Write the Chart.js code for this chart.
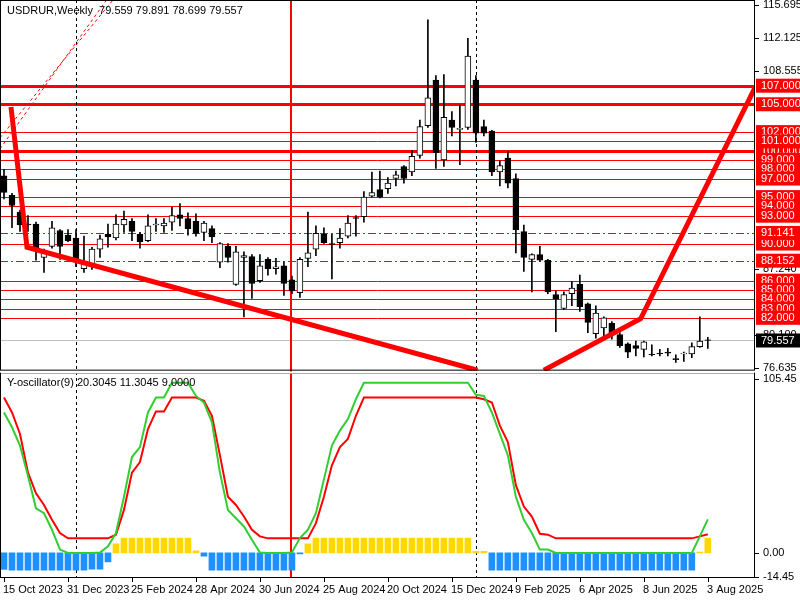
<!DOCTYPE html>
<html><head><meta charset="utf-8">
<script src="https://cdn.jsdelivr.net/npm/chart.js@4.4.1/dist/chart.umd.min.js"></script>
<style>html,body{margin:0;padding:0;background:#fff}#wrap{width:800px;height:600px}</style>
</head><body><div id="wrap"><canvas id="c"></canvas></div>
<script>
const opens =[97.3,95.2,93.4,92.1,92.1,88.5,89.7,91.4,90.9,90.6,87.3,87.5,89.4,91.0,90.6,92.0,92.4,91.0,90.3,92.0,91.9,92.3,93.1,92.7,92.4,91.2,91.6,88.0,89.7,85.6,88.5,88.6,86.0,88.3,87.3,87.6,86.1,84.7,88.4,89.4,91.0,90.0,90.1,90.8,92.8,92.9,95.1,95.8,95.9,97.0,98.3,97.7,99.5,102.7,107.6,99.0,103.3,102.3,102.5,107.6,102.6,102.1,97.7,99.2,97.0,91.3,88.3,88.8,88.2,84.5,83.0,84.6,85.6,83.5,80.3,80.9,81.4,80.2,79.2,79.0,78.6,78.1,78.2,78.3,77.6,78.1,78.1,78.9,79.559];
const highs =[98.0,95.4,93.6,93.0,92.3,89.4,92.4,91.5,91.5,91.5,90.8,89.6,90.9,92.1,93.1,93.5,92.7,91.2,93.1,92.7,92.7,93.9,94.3,93.3,93.2,92.4,91.9,90.1,90.0,89.7,89.1,88.8,88.8,88.5,88.4,88.0,86.5,88.5,93.4,91.9,91.7,91.0,91.6,93.0,93.0,95.6,97.7,97.8,97.1,97.8,98.4,100.0,103.3,114.1,108.1,108.2,104.2,104.9,112.1,108.1,103.3,102.2,98.9,99.9,97.5,92.0,88.9,89.7,88.3,84.9,84.8,85.9,86.6,83.6,83.3,82.1,81.6,80.4,79.3,79.5,79.5,79.1,78.6,78.7,78.0,78.3,79.3,82.1,79.891];
const lows  =[94.8,91.7,91.3,91.3,88.2,86.9,89.5,88.3,90.2,87.5,86.9,87.2,88.5,89.6,90.4,91.2,90.3,89.5,90.2,91.3,91.2,91.4,91.9,90.9,90.8,90.3,90.1,87.4,88.0,85.5,82.1,84.1,85.8,86.6,86.7,84.4,84.6,84.2,87.5,88.7,90.0,86.2,89.5,90.6,90.8,92.3,95.0,94.9,95.4,96.2,96.5,97.3,99.2,102.5,98.1,98.3,101.6,98.5,102.3,100.9,101.6,97.3,96.2,96.0,89.0,87.0,84.8,88.1,84.6,80.5,82.9,83.3,82.7,80.4,79.8,80.0,79.7,78.8,77.7,77.9,77.8,77.9,77.9,77.9,77.2,77.3,77.7,78.8,78.699];
const closes=[95.5,94.1,92.0,92.0,89.4,89.0,91.7,89.7,90.3,88.0,87.9,89.4,90.5,90.7,92.1,92.6,91.3,90.2,91.9,92.1,92.2,93.0,92.7,91.6,91.1,92.2,90.7,90.0,88.5,89.1,88.7,85.7,87.6,87.3,87.5,85.7,84.9,88.3,89.0,91.1,90.1,89.9,90.6,92.2,92.7,95.0,95.5,95.0,96.5,97.4,97.0,99.4,102.6,105.7,99.8,103.6,102.5,102.4,110.2,101.9,101.9,97.7,98.4,96.5,91.5,88.5,88.8,88.2,84.8,84.0,84.5,85.2,83.2,81.5,82.5,82.0,80.2,79.0,78.3,78.7,79.4,78.0,78.1,78.2,77.5,78.2,78.9,79.5,79.557];
const oscGreen=[85,76,65,46.5,27,24,14,2,0,0,0,0,0.2,4,12,34,58,64,85,94,94,103,103,103,95,91,79,48.6,26,21,16,8,0.2,0,0,0,0.2,9,14,24,44.5,65,74,81,93,103,103,103,103,103,103,103,103,103,103,103,103,103,103,95.7,95,85,72,59,34,20,12,2,2,0,0,0,0,0,0,0,0,0,0,0,0,0,0,0,0,0,0,10,20.3045];
const oscRed=[94,85,72,48.6,36,29,20,12,8.8,8.8,8.8,8.8,8.8,8.8,11,26,48.6,55,75,85.6,85.6,94,94,94,94,92,83,59,34,29,22,14,10,8.8,8.8,8.8,8.8,8.8,8.8,18,34,53,64,69,83,94,94,94,94,94,94,94,94,94,94,94,94,94,94,94,93,91,77,67,41,28,22,11.6,11,8.8,8.8,8.8,8.8,8.8,8.8,8.8,8.8,8.8,8.8,8.8,8.8,8.8,8.8,8.8,8.8,8.8,8.8,10,11.3045];
const oscHist=[-10,-10.4,-10.4,-10.4,-10.4,-10.4,-10.4,-10.4,-10.4,-10.4,-10.4,-9.8,-9.8,-5.5,5.5,9,9,9,9,9,9,9,9,9,1.2,-2,-10.4,-10.4,-10.4,-10.4,-10.4,-10.4,-10.4,-10.4,-10.4,-10.4,-10.4,-0.6,5.5,9,9,9,9,9,9,9,9,9,9,9,9,9,9,9,9,9,9,9,9,1,1,-10.4,-10.4,-10.4,-10.4,-10.4,-10.4,-10.4,-10.4,-10.4,-10.4,-10.4,-10.4,-10.4,-10.4,-10.4,-10.4,-10.4,-10.4,-10.4,-10.4,-10.4,-10.4,-10.4,-10.4,-10.4,-10.4,0.5,9];
const dateLabels=['15 Oct 2023','31 Dec 2023','25 Feb 2024','28 Apr 2024','30 Jun 2024','25 Aug 2024','20 Oct 2024','15 Dec 2024','9 Feb 2025','6 Apr 2025','8 Jun 2025','3 Aug 2025'];
const priceTicks=[115.695,112.125,108.555,87.240,80.100,76.635];
const oscTicks=[105.45,0.00,-14.45];
const levelsThick=[107,105,100];
const levelsThin=[102,101,99,98,97,95,94,93,90,86,85,84,83,82];
const levelsDash=[91.141,88.152];
const lastPrice=79.557;
const trend1=[{x:0.875,y:104.7},{x:2.875,y:89.6},{x:59.2,y:76.35}];
const trend2=[{x:67.5,y:76.35},{x:79.6,y:81.9},{x:93.9,y:106.8}];
const dashA=[{x:-0.5,y:101.4},{x:13.6,y:116.2}];
const dashB=[{x:-0.5,y:100.2},{x:12.8,y:116.2}];
const vDashed=[9,59];
const vRed=[35.9];

const idx=opens.map((_,i)=>i);
const bodies=idx.map(i=>{let a=opens[i],b=closes[i];if(Math.abs(a-b)<0.08){b=a+0.08;}return {x:i,y:[a,b]};});
const wicks=idx.map(i=>({x:i,y:[lows[i],highs[i]]}));
const F='11px "Liberation Sans", sans-serif';

const deco={id:'deco',
 beforeDatasetsDraw(ch){const c=ch.ctx,a=ch.chartArea,y=ch.scales.y,x=ch.scales.x;
  c.save();
  const hl=(v,w,d)=>{const p=Math.round(y.getPixelForValue(v))+0.5;c.beginPath();c.setLineDash(d||[]);c.lineWidth=w;c.strokeStyle='#f00';c.moveTo(a.left,p);c.lineTo(a.right,p);c.stroke();};
  c.beginPath();c.strokeStyle='#c0c0c0';c.lineWidth=1;const lp=Math.round(y.getPixelForValue(lastPrice))+0.5;c.moveTo(a.left,lp);c.lineTo(a.right,lp);c.stroke();
  levelsThin.forEach(v=>hl(v,1));levelsDash.forEach(v=>hl(v,1,[8,3,2,3]));levelsThick.forEach(v=>hl(v,3));
  c.setLineDash([3,3]);c.strokeStyle='#000';c.lineWidth=1;
  vDashed.forEach(v=>{const p=Math.round(x.getPixelForValue(v))+0.5;c.beginPath();c.moveTo(p,a.top);c.lineTo(p,a.bottom);c.stroke();});
  c.setLineDash([]);c.strokeStyle='#f00';c.lineWidth=2;
  vRed.forEach(v=>{const p=Math.round(x.getPixelForValue(v));c.beginPath();c.moveTo(p,a.top);c.lineTo(p,a.bottom);c.stroke();});
  c.restore();},
 afterDraw(ch){const c=ch.ctx,a=ch.chartArea,y=ch.scales.y,yo=ch.scales.yo,x=ch.scales.x;
  c.save();c.strokeStyle='#000';c.lineWidth=1;
  const sep=Math.round(y.bottom)+0.5;
  c.strokeRect(a.left+0.5,a.top+0.5,a.right-a.left-1,y.bottom-a.top-1);
  c.strokeRect(a.left+0.5,yo.top+2.5,a.right-a.left-1,yo.bottom-yo.top-3);
  c.fillStyle='#fff';c.fillRect(a.left+1,sep,a.right-a.left-2,2);
  c.font=F;c.textBaseline='middle';c.textAlign='left';
  priceTicks.forEach(v=>{const p=y.getPixelForValue(v);c.fillStyle='#000';c.fillRect(a.right,Math.round(p),4,1);c.fillText(v.toFixed(3),a.right+8,p);});
  oscTicks.forEach(v=>{const p=yo.getPixelForValue(v);c.fillStyle='#000';c.fillRect(a.right,Math.round(p),4,1);c.fillText(v.toFixed(2),a.right+8,p);});
  [...levelsThick,...levelsThin,...levelsDash].forEach(v=>{const p=y.getPixelForValue(v);c.fillStyle='#f00';c.fillRect(a.right+1,p-7,44,14);c.fillStyle='#fff';c.fillText(v.toFixed(3),a.right+6,p);});
  const lp=y.getPixelForValue(lastPrice);c.fillStyle='#000';c.fillRect(a.right+1,lp-7,44,14);c.fillStyle='#fff';c.fillText(lastPrice.toFixed(3),a.right+6,lp);
  c.fillStyle='#000';
  dateLabels.forEach((t,k)=>{const p=Math.round(x.getPixelForValue(k*8));c.fillRect(p,a.bottom,1,4);c.fillText(t,p-1,a.bottom+12);});
  c.fillText('USDRUR,Weekly  79.559 79.891 78.699 79.557',7,11);
  c.fillText('Y-oscillator(9) 20.3045 11.3045 9.0000',7,yo.top+12);
  c.restore();}
};

new Chart(document.getElementById('c'),{
 data:{datasets:[
  {type:'line',data:trend1,yAxisID:'y',borderColor:'#f00',borderWidth:5,pointRadius:0,order:1},
  {type:'line',data:trend2,yAxisID:'y',borderColor:'#f00',borderWidth:5,pointRadius:0,order:1},
  {type:'line',data:dashA,yAxisID:'y',borderColor:'#f00',borderWidth:1,borderDash:[3,3],pointRadius:0,order:1},
  {type:'line',data:dashB,yAxisID:'y',borderColor:'#f00',borderWidth:1,borderDash:[3,3],pointRadius:0,order:1},
  {type:'bar',data:bodies,yAxisID:'y',grouped:false,barThickness:6,borderWidth:1,borderSkipped:false,borderColor:'#000',
   backgroundColor:idx.map(i=>closes[i]>=opens[i]?'#fff':'#000'),order:3},
  {type:'bar',data:wicks,yAxisID:'y',grouped:false,barThickness:1,backgroundColor:'#000',borderWidth:0,order:4},
  {type:'bar',data:idx.map(i=>({x:i,y:oscHist[i]})),yAxisID:'yo',grouped:false,barThickness:6,borderWidth:0,
   backgroundColor:oscHist.map(v=>v>=0?'#FFD700':'#1E90FF'),order:5},
  {type:'line',data:idx.map(i=>({x:i,y:oscGreen[i]})),yAxisID:'yo',borderColor:'#32CD32',borderWidth:2,pointRadius:0,order:2},
  {type:'line',data:idx.map(i=>({x:i,y:oscRed[i]})),yAxisID:'yo',borderColor:'#f00',borderWidth:2,pointRadius:0,order:2}
 ]},
 options:{responsive:true,maintainAspectRatio:false,animation:false,
  layout:{padding:{left:0,right:0,top:0,bottom:22}},
  plugins:{legend:{display:false},tooltip:{enabled:false}},
  scales:{
   x:{type:'linear',min:-0.5,max:93.9,offset:false,display:false},
   y:{type:'linear',position:'right',stack:'p',stackWeight:370,min:76.31,max:116.23,grid:{display:false},border:{display:false},
    ticks:{display:false},afterFit:s=>{s.width=45;}},
   yo:{type:'linear',position:'right',stack:'p',stackWeight:207,min:-15.2,max:110.3,grid:{display:false},border:{display:false},
    ticks:{display:false},afterFit:s=>{s.width=45;}}
  }},
 plugins:[deco]
});
</script></body></html>
